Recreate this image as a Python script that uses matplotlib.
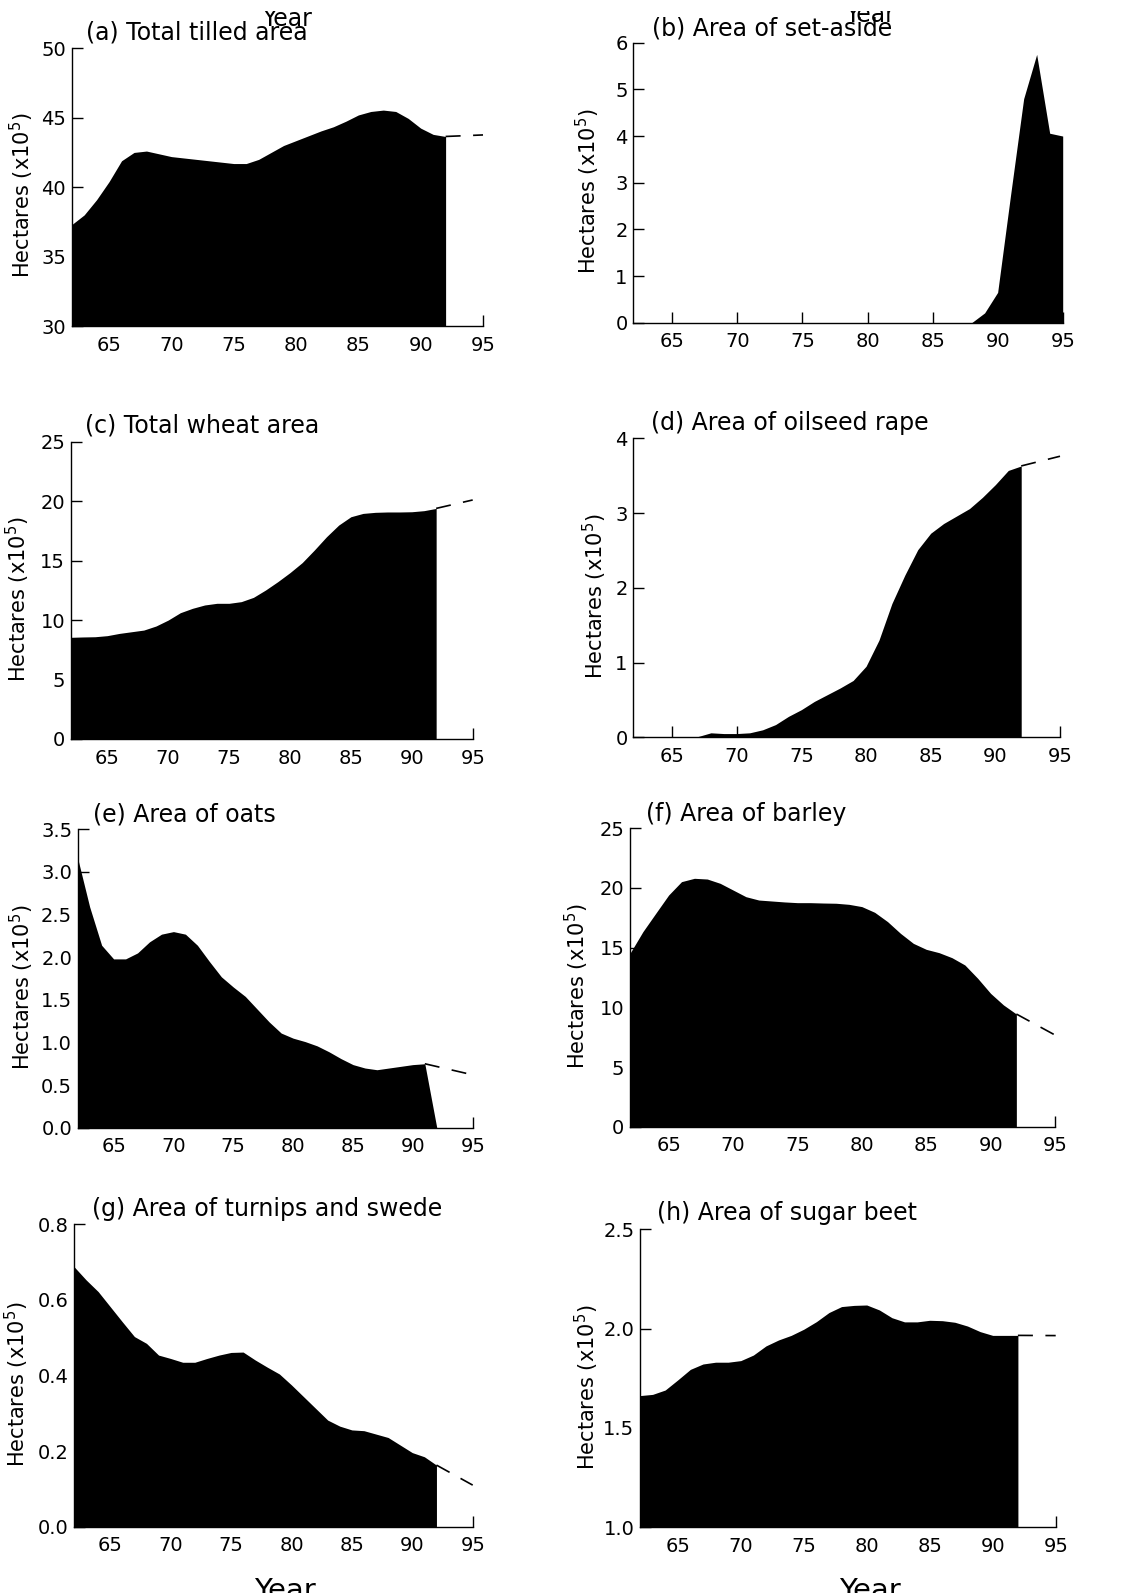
import matplotlib
matplotlib.use("Agg")
import matplotlib.pyplot as plt
from matplotlib.patches import Rectangle

plt.rcParams['font.family'] = ['DejaVu Sans']
plt.rcParams['mathtext.fontset'] = 'dejavusans'

# ---------------- data (hectares x 10^5) ----------------
years = list(range(62, 93))
tilled = [37.3, 38.0, 39.1, 40.4, 41.9, 42.5, 42.6, 42.4, 42.2, 42.1, 42.0, 41.9, 41.8,
          41.7, 41.7, 42.0, 42.5, 43.0, 43.35, 43.7, 44.05, 44.35, 44.75, 45.2, 45.45,
          45.55, 45.45, 44.95, 44.25, 43.8, 43.65]
setaside_years = list(range(62, 96))
setaside = [0] * 27 + [0.21, 0.65, 2.75, 4.8, 5.75, 4.06, 4.0]
wheat = [8.55, 8.58, 8.6, 8.69, 8.88, 9.02, 9.16, 9.5, 10.0, 10.62, 10.99, 11.27, 11.41,
         11.41, 11.55, 11.91, 12.53, 13.23, 13.99, 14.83, 15.89, 17.01, 17.99, 18.69,
         18.97, 19.06, 19.09, 19.09, 19.11, 19.2, 19.39]
oilseed = [0, 0, 0, 0, 0, 0.01, 0.06, 0.05, 0.05, 0.06, 0.1, 0.17, 0.28, 0.37, 0.48, 0.57,
           0.66, 0.76, 0.95, 1.3, 1.79, 2.17, 2.51, 2.73, 2.86, 2.96, 3.06, 3.21, 3.38,
           3.57, 3.63]
oats = [3.16, 2.59, 2.14, 1.98, 1.98, 2.05, 2.18, 2.27, 2.3, 2.27, 2.14, 1.95, 1.77, 1.65,
        1.54, 1.39, 1.24, 1.11, 1.05, 1.01, 0.96, 0.89, 0.81, 0.74, 0.70, 0.68, 0.70, 0.72,
        0.74, 0.75, 0.0]
barley = [14.53, 16.34, 17.88, 19.41, 20.53, 20.81, 20.75, 20.39, 19.83, 19.27, 18.99,
          18.91, 18.83, 18.77, 18.77, 18.74, 18.72, 18.63, 18.44, 17.96, 17.18, 16.2,
          15.36, 14.86, 14.58, 14.16, 13.55, 12.43, 11.17, 10.2, 9.44]
turnips = [0.688, 0.653, 0.622, 0.582, 0.542, 0.503, 0.485, 0.454, 0.445, 0.435, 0.435,
           0.445, 0.454, 0.461, 0.462, 0.441, 0.422, 0.404, 0.375, 0.344, 0.313, 0.282,
           0.266, 0.256, 0.254, 0.245, 0.236, 0.216, 0.196, 0.185, 0.163]
beet = [1.663, 1.669, 1.691, 1.742, 1.795, 1.822, 1.831, 1.831, 1.839, 1.867, 1.913, 1.943,
        1.966, 1.997, 2.035, 2.081, 2.111, 2.117, 2.119, 2.094, 2.055, 2.034, 2.034, 2.042,
        2.040, 2.032, 2.013, 1.985, 1.966, 1.966, 1.966]

# projections (dashed)
proj_years = [92, 95]
oats_proj_years = [91, 95]
tilled_proj = [43.65, 43.76]
wheat_proj = [19.39, 20.1]
oilseed_proj = [3.63, 3.76]
oats_proj = [0.75, 0.62]
barley_proj = [9.44, 7.68]
turnips_proj = [0.163, 0.110]
beet_proj = [1.966, 1.965]

titles = ["(a) Total tilled area", "(b) Area of set-aside", "(c) Total wheat area",
          "(d) Area of oilseed rape", "(e) Area of oats", "(f) Area of barley",
          "(g) Area of turnips and swede", "(h) Area of sugar beet"]
xticks = [65, 70, 75, 80, 85, 90, 95]
yticks_a = [30, 35, 40, 45, 50]
yticks_b = [0, 1, 2, 3, 4, 5, 6]
yticks_c = [0, 5, 10, 15, 20, 25]
yticks_d = [0, 1, 2, 3, 4]
yticks_e = [0.0, 0.5, 1.0, 1.5, 2.0, 2.5, 3.0, 3.5]
yticks_f = [0, 5, 10, 15, 20, 25]
yticks_g = [0.0, 0.2, 0.4, 0.6, 0.8]
yticks_h = [1.0, 1.5, 2.0, 2.5]

W, H = 1124, 1593
fig = plt.figure(figsize=(W / 100, H / 100), dpi=100)

# axes boxes in pixels: left, right(x=95), top, bottom
boxes = [
    (71.7, 483.0, 48.3, 326.0), (633.3, 1062.7, 42.7, 322.7),
    (70.7, 472.7, 441.7, 739.0), (633.3, 1060.0, 438.3, 737.3),
    (77.7, 472.7, 829.3, 1127.7), (630.0, 1055.0, 828.3, 1126.7),
    (74.0, 472.7, 1224.3, 1526.7), (640.0, 1055.7, 1229.3, 1527.3),
]
label_off = [36, 31, 39, 24, 42, 39, 43, 39]
title_dx = [14, 19, 14, 18, 15, 16, 18, 17]
title_dy = [9, 7, 9, 8, 8, 7, 8, 9]

panels = [
    (years, tilled, proj_years, tilled_proj, yticks_a, "{:.0f}"),
    (setaside_years, setaside, None, None, yticks_b, "{:.0f}"),
    (years, wheat, proj_years, wheat_proj, yticks_c, "{:.0f}"),
    (years, oilseed, proj_years, oilseed_proj, yticks_d, "{:.0f}"),
    (years, oats, oats_proj_years, oats_proj, yticks_e, "{:.1f}"),
    (years, barley, proj_years, barley_proj, yticks_f, "{:.0f}"),
    (years, turnips, proj_years, turnips_proj, yticks_g, "{:.1f}"),
    (years, beet, proj_years, beet_proj, yticks_h, "{:.1f}"),
]

for i, (xs, ys, pxs, pys, yt, fmt) in enumerate(panels):
    l, r, t, b = boxes[i]
    ax = fig.add_axes([l / W, (H - b) / H, (r - l) / W, (b - t) / H])
    ymin, ymax = yt[0], yt[-1]
    ax.set_xlim(62, 95)
    ax.set_ylim(ymin, ymax)
    ax.fill_between(xs, ymin, ys, color='black', lw=0, zorder=3)
    if pxs is not None:
        ax.plot(pxs, pys, color='black', lw=1.2, linestyle=(0, (9, 7.5)), zorder=3,
                clip_on=False)
    for s in ['top', 'right']:
        ax.spines[s].set_visible(False)
    for s in ['left', 'bottom']:
        ax.spines[s].set_linewidth(1.0)
        ax.spines[s].set_zorder(1)
    ax.set_xticks(xticks)
    ax.set_xticklabels([str(v) for v in xticks])
    ax.set_yticks(yt)
    ax.set_yticklabels([fmt.format(v) for v in yt])
    ax.tick_params(axis='both', direction='in', length=8, width=1.0, labelsize=14)
    ax.tick_params(axis='x', pad=7)
    ax.tick_params(axis='y', pad=4)
    ax.set_ylabel("Hectares (x10$^{5}$)", fontsize=15)
    ax.yaxis.set_label_coords(-label_off[i] / (r - l), 0.47)
    ax.annotate(titles[i], xy=(0, 1), xycoords='axes fraction',
                xytext=(title_dx[i], title_dy[i]), textcoords='offset pixels',
                ha='left', va='baseline', fontsize=17)

# stray, partly cut-off "Year" captions of the scanned page
fig.text(287 / W, 1 - 26 / H, "Year", ha='center', va='baseline', fontsize=17)
fig.text(870 / W, 1 - 22 / H, "Year", ha='center', va='baseline', fontsize=17)
fig.add_artist(Rectangle((0, 1 - 11 / H), 1, 11 / H, transform=fig.transFigure,
                         facecolor='white', edgecolor='none', zorder=20))
fig.text(285 / W, 1 - 1577 / H, "Year", ha='center', va='top', fontsize=21)
fig.text(870 / W, 1 - 1577 / H, "Year", ha='center', va='top', fontsize=21)

fig.savefig("out.png", dpi=100)
